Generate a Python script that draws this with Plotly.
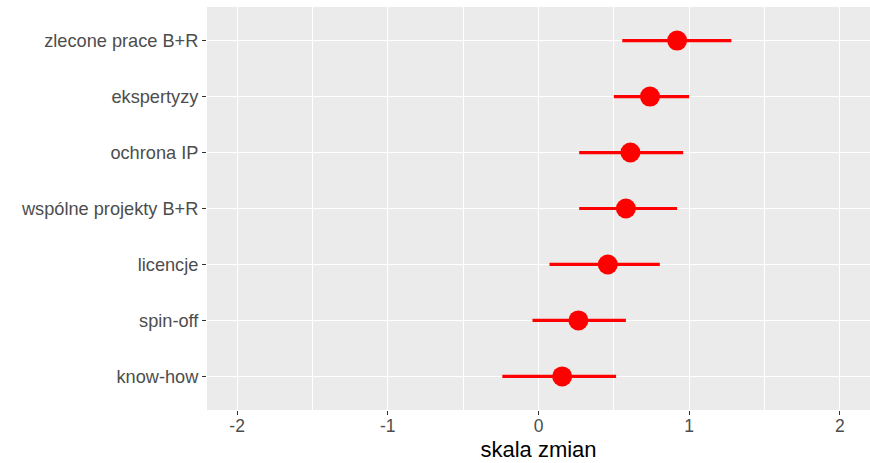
import plotly.graph_objects as go

categories = ["zlecone prace B+R", "ekspertyzy", "ochrona IP", "wspólne projekty B+R",
              "licencje", "spin-off", "know-how"]
estimates = [0.92, 0.74, 0.61, 0.58, 0.46, 0.265, 0.157]
ci_low = [0.556, 0.50, 0.27, 0.27, 0.073, -0.04, -0.24]
ci_high = [1.28, 1.00, 0.96, 0.92, 0.805, 0.58, 0.515]
x_ticks = [-2, -1, 0, 1, 2]

# bottom-to-top order for plotting
cats_b = categories[::-1]
est_b = estimates[::-1]
lo_b = ci_low[::-1]
hi_b = ci_high[::-1]

fig = go.Figure()
fig.add_trace(go.Scatter(
    x=est_b, y=cats_b, mode="markers",
    marker=dict(color="#FF0000", size=20),
    error_x=dict(type="data", symmetric=False,
                 array=[h - e for h, e in zip(hi_b, est_b)],
                 arrayminus=[e - l for e, l in zip(est_b, lo_b)],
                 color="#FF0000", thickness=3.2, width=0),
    showlegend=False, hoverinfo="skip",
))

fig.update_layout(
    width=870, height=463,
    margin=dict(l=207, r=0, t=7, b=53, autoexpand=False),
    paper_bgcolor="white", plot_bgcolor="#EBEBEB",
    font=dict(family="Liberation Sans, Arial, sans-serif"),
)
fig.update_xaxes(
    range=[-2.2, 2.2], tickvals=x_ticks, ticktext=[str(t) for t in x_ticks],
    showgrid=True, gridcolor="white", gridwidth=1.3,
    minor=dict(dtick=0.5, tick0=0.5, showgrid=True, gridcolor="white", gridwidth=0.6, ticklen=0),
    zeroline=False, showline=False, automargin=False,
    ticks="outside", ticklen=4, tickcolor="#333333", tickwidth=1,
    ticklabelstandoff=-4,
    tickfont=dict(size=17.5, color="#4D4D4D"),
    title=dict(text="skala zmian", font=dict(size=22, color="black"), standoff=6),
)
fig.update_yaxes(
    type="category", categoryorder="array", categoryarray=cats_b,
    range=[-0.6, 6.6], automargin=False,
    showgrid=True, gridcolor="white", gridwidth=1.3,
    zeroline=False, showline=False,
    ticks="outside", ticklen=4, tickcolor="#333333", tickwidth=1,
    tickfont=dict(size=18.2, color="#4D4D4D"),
)

fig.write_html("out.html", config={"displayModeBar": False},
               post_script="document.body.style.margin='0';document.body.style.overflow='hidden';")
